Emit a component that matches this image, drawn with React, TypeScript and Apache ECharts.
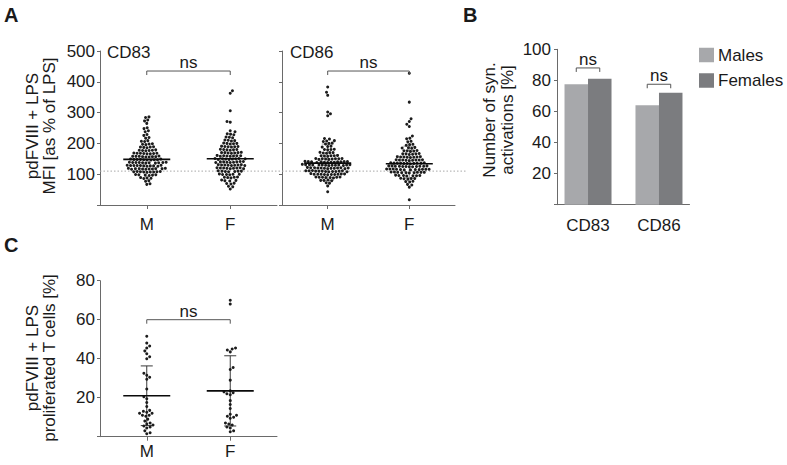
import React, { useEffect, useRef } from 'react';
import * as echarts from 'echarts';

const FONT = '"Liberation Sans", Arial, Helvetica, sans-serif';
const INK = '#1a1a1a';
const AXIS = '#6a6a6a';

// ---------- categories ----------
const GROUPS = ['M', 'F'];
const MARKERS = ['CD83', 'CD86'];
const SEXES = ['Males', 'Females'];

// ---------- panel A: MFI [as % of LPS] ----------
const CD83_M = [
  286, 284, 276, 273, 265, 251, 248, 241, 238, 229, 226, 219, 217,
  209, 207, 206, 199, 198, 197, 196, 189, 188, 188, 187, 186,
  179, 178, 178, 177, 177, 176,
  169, 168, 168, 168, 167, 167, 166, 166,
  159, 158, 158, 158, 157, 157, 157, 156, 156,
  149, 149, 148, 148, 148, 147, 147, 147, 146, 146,
  139, 139, 138, 138, 138, 138, 137, 137, 137, 136, 136,
  129, 129, 128, 128, 128, 128, 127, 127, 127, 126, 126,
  119, 119, 118, 118, 118, 118, 117, 117, 117, 116, 116,
  109, 109, 108, 108, 108, 107, 107, 107, 106,
  99, 98, 98, 97, 97, 96,
  89, 88, 87, 86,
  79, 77,
  69, 67,
];
const CD83_F = [
  371, 363, 306, 271, 269, 241, 238, 231, 230, 228, 221, 220, 218,
  211, 210, 209, 208,
  201, 200, 200, 199, 198,
  191, 190, 190, 189, 189, 188,
  181, 180, 180, 179, 179, 178,
  171, 170, 170, 170, 169, 169, 168,
  161, 160, 160, 160, 159, 159, 158, 158,
  151, 151, 150, 150, 150, 149, 149, 148, 148,
  141, 141, 140, 140, 140, 139, 139, 138, 138,
  131, 131, 130, 130, 130, 129, 129, 128, 128,
  121, 121, 120, 120, 120, 119, 119, 118, 118,
  111, 110, 110, 110, 109, 109, 108,
  101, 100, 100, 99, 99, 98,
  91, 90, 90, 89, 88,
  81, 80, 79, 78,
  71, 70, 68,
  61, 59,
  52,
];
const CD86_M = [
  383, 366, 356, 302, 296, 290,
  216, 214, 209, 208, 206, 201, 200, 198,
  191, 190, 188, 181, 180, 180, 179,
  171, 170, 170, 169, 168,
  161, 160, 160, 160, 159, 158,
  151, 151, 150, 150, 150, 149, 149, 148, 148,
  142, 141, 141, 141, 140, 140, 140, 140, 139, 139, 139, 138, 138,
  132, 131, 131, 131, 130, 130, 130, 130, 130, 129, 129, 129, 128, 128,
  122, 121, 121, 121, 120, 120, 120, 120, 119, 119, 119, 118, 118,
  112, 111, 111, 111, 110, 110, 110, 110, 109, 109, 109, 108, 108,
  102, 101, 101, 100, 100, 100, 100, 99, 99, 99, 98,
  91, 91, 90, 90, 90, 89, 89, 88,
  81, 80, 80, 79,
  72, 71, 62, 43,
];
const CD86_F = [
  428, 334, 280, 271, 262, 255, 224, 217, 215, 207, 205,
  197, 196, 194,
  187, 186, 185, 184,
  177, 176, 176, 175, 174,
  167, 166, 166, 166, 165, 164,
  157, 157, 156, 156, 156, 155, 155, 154,
  147, 147, 146, 146, 146, 146, 145, 145, 144,
  137, 137, 136, 136, 136, 136, 136, 135, 135, 135, 134,
  127, 127, 127, 126, 126, 126, 126, 125, 125, 125, 124, 124,
  117, 117, 117, 116, 116, 116, 116, 115, 115, 115, 114, 114,
  107, 107, 106, 106, 106, 106, 105, 105, 105, 104,
  97, 96, 96, 96, 95, 95, 94,
  87, 86, 86, 85, 84,
  77, 76, 75,
  67, 65, 58, 17,
];
const CD83_MEDIAN = [148, 150];
const CD86_MEDIAN = [136, 134];
const CD86_SD_LOW = [80, 88];
const CD86_SD_HIGH = [198, 191];
const LPS_LEVEL = 110;
const NS_A = 435;

// ---------- panel B: number of syn. activations [%] ----------
const SYN_MALES = [77.5, 64];
const SYN_FEMALES = [81, 72];
const NS_B = [88, 77.5];

// ---------- panel C: proliferated T cells [%] ----------
const PROLIF_M = [
  51.5, 48, 46.5, 45.5, 44, 42.5, 41, 40, 32.5, 31.5, 30.5, 29.5, 24.5,
  20.5, 19.5, 17.5, 15.5, 13.5, 13, 12.5, 12, 12, 11, 11, 10.5, 9, 8, 7,
  6.5, 6, 5.5, 5, 4.5, 3, 2, 1.5,
];
const PROLIF_F = [
  70, 68, 45.5, 45, 44.5, 43.5, 35.5, 34.5, 29, 23.5, 23, 22.5, 22, 21.5,
  18.5, 16.5, 14.5, 11.5, 11, 10.5, 10, 9.5, 7, 6.5, 6, 5, 4.5, 3, 2.5,
];
const PROLIF_MEAN = [21, 23.5];
const PROLIF_SD = [15.3, 18];
const NS_C = 60;

// ---------- layout constants ----------
const GA = { top: 51, height: 154 };
const GC = { top: 280.7, height: 156 };
const BAR_W = 23.5;

// greedy beeswarm: horizontal pixel offsets so that dots do not overlap
function swarm(values: number[], pxPerUnit: number, d: number): number[] {
  const order = values.map((_, i) => i).sort((a, b) => values[a] - values[b]);
  const placed: { x: number; y: number }[] = [];
  const out: number[] = new Array(values.length).fill(0);
  let prefer = 1;
  for (const i of order) {
    const y = values[i] * pxPerUnit;
    const near = placed.filter((p) => Math.abs(p.y - y) < d);
    const cands = [0];
    for (const p of near) {
      const dx = Math.sqrt(Math.max(0, d * d - (p.y - y) * (p.y - y)));
      cands.push(p.x + dx, p.x - dx);
    }
    const ok = cands.filter((c) =>
      near.every((p) => (p.x - c) * (p.x - c) + (p.y - y) * (p.y - y) >= d * d - 1e-6)
    );
    ok.sort((a, b) => {
      const da = Math.abs(a) - Math.abs(b);
      if (Math.abs(da) < 1e-6) return (b - a) * prefer;
      return da;
    });
    const x = ok[0];
    if (Math.abs(x) > 1e-6) prefer = x > 0 ? -1 : 1;
    placed.push({ x, y });
    out[i] = x;
  }
  return out;
}

function dotData(groups: number[][], pxPerUnit: number, d: number) {
  const out: number[][] = [];
  groups.forEach((vals, gi) => {
    const off = swarm(vals, pxPerUnit, d);
    vals.forEach((v, k) => out.push([gi + 1, v, off[k]]));
  });
  return out;
}

const dotsSeries = (idx: number, data: number[][]) => ({
  type: 'custom',
  xAxisIndex: idx,
  yAxisIndex: idx,
  silent: true,
  z: 3,
  data,
  renderItem: (_p: any, api: any) => {
    const c = api.coord([api.value(0), api.value(1)]);
    return {
      type: 'circle',
      shape: { cx: c[0] + api.value(2), cy: c[1], r: 1.5 },
      style: { fill: '#1c1c1c' },
    };
  },
});

const centerLineSeries = (idx: number, values: number[], half: number) => ({
  type: 'custom',
  xAxisIndex: idx,
  yAxisIndex: idx,
  silent: true,
  z: 5,
  data: values.map((v, i) => [i + 1, v]),
  renderItem: (_p: any, api: any) => {
    const c = api.coord([api.value(0), api.value(1)]);
    return {
      type: 'line',
      shape: { x1: c[0] - half, y1: c[1], x2: c[0] + half, y2: c[1] },
      style: { stroke: '#0a0a0a', lineWidth: 1.6 },
    };
  },
});

const whiskerSeries = (idx: number, low: number[], high: number[], color: string, z: number) => ({
  type: 'custom',
  xAxisIndex: idx,
  yAxisIndex: idx,
  silent: true,
  z,
  data: low.map((v, i) => [i + 1, v, high[i]]),
  renderItem: (_p: any, api: any) => {
    const lo = api.coord([api.value(0), api.value(1)]);
    const hi = api.coord([api.value(0), api.value(2)]);
    const st = { stroke: color, lineWidth: 1 };
    return {
      type: 'group',
      children: [
        { type: 'line', shape: { x1: lo[0], y1: lo[1], x2: hi[0], y2: hi[1] }, style: st },
        { type: 'line', shape: { x1: lo[0] - 6, y1: lo[1], x2: lo[0] + 6, y2: lo[1] }, style: st },
        { type: 'line', shape: { x1: hi[0] - 6, y1: hi[1], x2: hi[0] + 6, y2: hi[1] }, style: st },
      ],
    };
  },
});

const nsGroup = (x1: number, x2: number, y: number) => ({
  type: 'group',
  children: [
    {
      type: 'polyline',
      shape: { points: [[x1, y + 4], [x1, y], [x2, y], [x2, y + 4]] },
      style: { stroke: '#555', lineWidth: 1, fill: 'none' },
    },
    {
      type: 'text',
      x: (x1 + x2) / 2,
      y: y - 8.5,
      style: { text: 'ns', fontSize: 17, fontFamily: FONT, fill: INK, align: 'center', verticalAlign: 'middle' },
    },
  ],
});

const bracketSeries = (idx: number, level: number) => ({
  type: 'custom',
  xAxisIndex: idx,
  yAxisIndex: idx,
  silent: true,
  z: 6,
  data: [[1, level, 2]],
  renderItem: (_p: any, api: any) => {
    const a = api.coord([api.value(0), api.value(1)]);
    const b = api.coord([api.value(2), api.value(1)]);
    return nsGroup(a[0], b[0], a[1]);
  },
});

const refLineSeries = (idx: number, extR: number) => ({
  type: 'custom',
  xAxisIndex: idx,
  yAxisIndex: idx,
  silent: true,
  z: 1,
  data: [[1, LPS_LEVEL]],
  renderItem: (params: any, api: any) => {
    const cs = params.coordSys;
    const y = api.coord([api.value(0), api.value(1)])[1];
    return {
      type: 'line',
      shape: { x1: cs.x, y1: y, x2: cs.x + cs.width + extR, y2: y },
      style: { stroke: '#a8a8a8', lineWidth: 1, lineDash: [1.5, 2] },
    };
  },
});

const labelStyle = { fontSize: 17, fontFamily: FONT, color: INK };

const groupXAxis = (gridIndex: number, margin: number) => ({
  type: 'value',
  gridIndex,
  min: 0.44,
  max: 2.56,
  axisLine: { show: true, lineStyle: { color: AXIS, width: 1 } },
  axisTick: { show: true, customValues: [1, 2], length: 4, lineStyle: { color: AXIS } },
  axisLabel: { ...labelStyle, customValues: [1, 2], margin, formatter: (v: number) => GROUPS[Math.round(v) - 1] ?? '' },
  splitLine: { show: false },
});

const valueYAxis = (gridIndex: number, max: number, interval: number, showLabels: boolean, margin: number) => ({
  type: 'value',
  gridIndex,
  min: 0,
  max,
  interval,
  axisLine: { show: true, lineStyle: { color: AXIS, width: 1 } },
  axisTick: { show: true, length: 3, lineStyle: { color: AXIS } },
  axisLabel: { ...labelStyle, show: showLabels, margin, formatter: (v: number) => (v === 0 ? '' : String(v)) },
  splitLine: { show: false },
});

const vText = (x: number, y: number, text: string) => ({
  type: 'text',
  x,
  y,
  rotation: Math.PI / 2,
  style: { text, fontSize: 17, fontFamily: FONT, fill: INK, align: 'center', verticalAlign: 'middle' },
});
const hText = (x: number, y: number, text: string, size = 17, bold = false, align = 'left') => ({
  type: 'text',
  x,
  y,
  style: {
    text,
    fontSize: size,
    fontWeight: bold ? 'bold' : 'normal',
    fontFamily: FONT,
    fill: INK,
    align,
    verticalAlign: 'middle',
  },
});

function buildOption() {
  const aPx = GA.height / 500;
  const cPx = GC.height / 80;
  return {
    animation: false,
    backgroundColor: '#ffffff',
    textStyle: { fontFamily: FONT },
    grid: [
      { left: 100, top: GA.top, width: 177, height: GA.height },
      { left: 282, top: GA.top, width: 173, height: GA.height },
      { left: 557, top: 49.3, width: 132.5, height: 155.4 },
      { left: 100, top: GC.top, width: 177, height: GC.height },
    ],
    xAxis: [
      groupXAxis(0, 11),
      groupXAxis(1, 11),
      {
        type: 'value',
        gridIndex: 2,
        min: 0.563,
        max: 2.43,
        axisLine: { show: true, lineStyle: { color: AXIS, width: 1 } },
        axisTick: { show: false },
        axisLabel: { ...labelStyle, customValues: [1, 2], margin: 12, formatter: (v: number) => MARKERS[Math.round(v) - 1] ?? '' },
        splitLine: { show: false },
      },
      groupXAxis(3, 6),
    ],
    yAxis: [
      valueYAxis(0, 500, 100, true, 5),
      valueYAxis(1, 500, 100, false, 5),
      valueYAxis(2, 100, 20, true, 6),
      valueYAxis(3, 80, 20, true, 5),
    ],
    legend: {
      data: SEXES,
      left: 699,
      top: 46.5,
      orient: 'vertical',
      icon: 'rect',
      itemWidth: 15,
      itemHeight: 14.5,
      itemGap: 8.5,
      selectedMode: false,
      padding: 0,
      textStyle: { fontSize: 17, fontFamily: FONT, color: INK, padding: [0, 0, 0, -1] },
    },
    graphic: [
      hText(4, 15, 'A', 20, true),
      hText(463, 15, 'B', 20, true),
      hText(4, 245, 'C', 20, true),
      hText(107, 52.5, MARKERS[0]),
      hText(290, 52.5, MARKERS[1]),
      vText(32, 126, 'pdFVIII + LPS'),
      vText(49, 126, 'MFI [as % of LPS]'),
      vText(489, 120, 'Number of syn.'),
      vText(507, 120, 'activations [%]'),
      vText(32, 358, 'pdFVIII + LPS'),
      vText(49, 358, 'proliferated T cells [%]'),
    ],
    series: [
      refLineSeries(0, 5),
      refLineSeries(1, 11),
      dotsSeries(0, dotData([CD83_M, CD83_F], aPx, 3.3)),
      centerLineSeries(0, CD83_MEDIAN, 23.5),
      bracketSeries(0, NS_A),
      whiskerSeries(1, CD86_SD_LOW, CD86_SD_HIGH, '#9a9a9a', 2),
      dotsSeries(1, dotData([CD86_M, CD86_F], aPx, 3.3)),
      centerLineSeries(1, CD86_MEDIAN, 23.5),
      bracketSeries(1, NS_A),
      {
        type: 'bar',
        name: SEXES[0],
        xAxisIndex: 2,
        yAxisIndex: 2,
        barWidth: BAR_W,
        barGap: '0%',
        itemStyle: { color: '#a7a8ab' },
        data: SYN_MALES.map((v, i) => [i + 1, v]),
      },
      {
        type: 'bar',
        name: SEXES[1],
        xAxisIndex: 2,
        yAxisIndex: 2,
        barWidth: BAR_W,
        barGap: '0%',
        itemStyle: { color: '#7b7c7f' },
        data: SYN_FEMALES.map((v, i) => [i + 1, v]),
      },
      {
        type: 'custom',
        xAxisIndex: 2,
        yAxisIndex: 2,
        silent: true,
        z: 6,
        data: NS_B.map((v, i) => [i + 1, v]),
        renderItem: (_p: any, api: any) => {
          const c = api.coord([api.value(0), api.value(1)]);
          return nsGroup(c[0] - BAR_W / 2, c[0] + BAR_W / 2, c[1]);
        },
      },
      whiskerSeries(3, PROLIF_MEAN.map((m, i) => m - PROLIF_SD[i]), PROLIF_MEAN.map((m, i) => m + PROLIF_SD[i]), '#3a3a3a', 2),
      dotsSeries(3, dotData([PROLIF_M, PROLIF_F], cPx, 3.5)),
      centerLineSeries(3, PROLIF_MEAN, 23.5),
      bracketSeries(3, NS_C),
    ],
  };
}

export default function App() {
  const ref = useRef<HTMLDivElement>(null);
  useEffect(() => {
    if (!ref.current) return;
    const chart = echarts.init(ref.current, null, { renderer: 'svg' });
    chart.setOption(buildOption() as any);
    return () => chart.dispose();
  }, []);
  return (
    <div
      ref={ref}
      style={{ position: 'fixed', left: 0, top: 0, width: 787, height: 465, background: '#ffffff' }}
    />
  );
}
